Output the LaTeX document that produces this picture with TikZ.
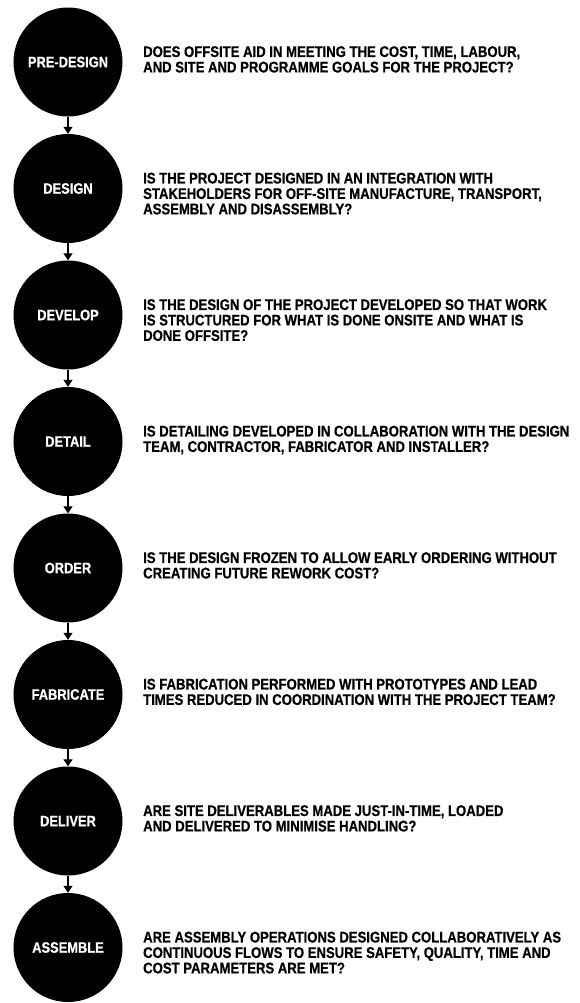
\documentclass[tikz,border=0pt]{standalone}
\usepackage{fontspec}
\usetikzlibrary{arrows.meta}
\newfontfamily\condsans[FakeStretch=0.85,BoldFeatures={FakeBold=0.6}]{Liberation Sans}

\begin{document}
\begin{tikzpicture}[x=1bp,y=-1bp,
  stage/.style={circle,fill=black,minimum size=109bp,inner sep=0pt,text=white,
    font=\condsans\bfseries\fontsize{15.2}{15.5}\selectfont},
  ask/.style={anchor=north west,align=left,inner sep=0pt,
    font=\condsans\bfseries\fontsize{15.5}{15.5}\selectfont},
  flow/.style={line width=1.2bp,-{Triangle[width=9bp,length=7bp]}}]
  \useasboundingbox (0,0) rectangle (580,1003);
  % one circle per stage, its question to the right
  \foreach \lbl/\txt [count=\k from 0] in {
    PRE-DESIGN/{DOES OFFSITE AID IN MEETING THE COST, TIME, LABOUR,\\AND SITE AND PROGRAMME GOALS FOR THE PROJECT?},
    DESIGN/{IS THE PROJECT DESIGNED IN AN INTEGRATION WITH\\STAKEHOLDERS FOR OFF-SITE MANUFACTURE, TRANSPORT,\\ASSEMBLY AND DISASSEMBLY?},
    DEVELOP/{IS THE DESIGN OF THE PROJECT DEVELOPED SO THAT WORK\\IS STRUCTURED FOR WHAT IS DONE ONSITE AND WHAT IS\\DONE OFFSITE?},
    DETAIL/{IS DETAILING DEVELOPED IN COLLABORATION WITH THE DESIGN\\TEAM, CONTRACTOR, FABRICATOR AND INSTALLER?},
    ORDER/{IS THE DESIGN FROZEN TO ALLOW EARLY ORDERING WITHOUT\\CREATING FUTURE REWORK COST?},
    FABRICATE/{IS FABRICATION PERFORMED WITH PROTOTYPES AND LEAD\\TIMES REDUCED IN COORDINATION WITH THE PROJECT TEAM?},
    DELIVER/{ARE SITE DELIVERABLES MADE JUST-IN-TIME, LOADED\\AND DELIVERED TO MINIMISE HANDLING?},
    ASSEMBLE/{ARE ASSEMBLY OPERATIONS DESIGNED COLLABORATIVELY AS\\CONTINUOUS FLOWS TO ENSURE SAFETY, QUALITY, TIME AND\\COST PARAMETERS ARE MET?}}{
    \node[stage] (s\k) at (68,62+126.5*\k) {\lbl};
    \node[ask] (q\k) at ([xshift=75bp,yshift=16bp]s\k.center) {\txt};
  }
  % arrows between the stages
  \foreach \k [remember=\k as \j (initially 0)] in {1,...,7}
    \draw[flow] (s\j) -- (s\k);
\end{tikzpicture}
\end{document}
